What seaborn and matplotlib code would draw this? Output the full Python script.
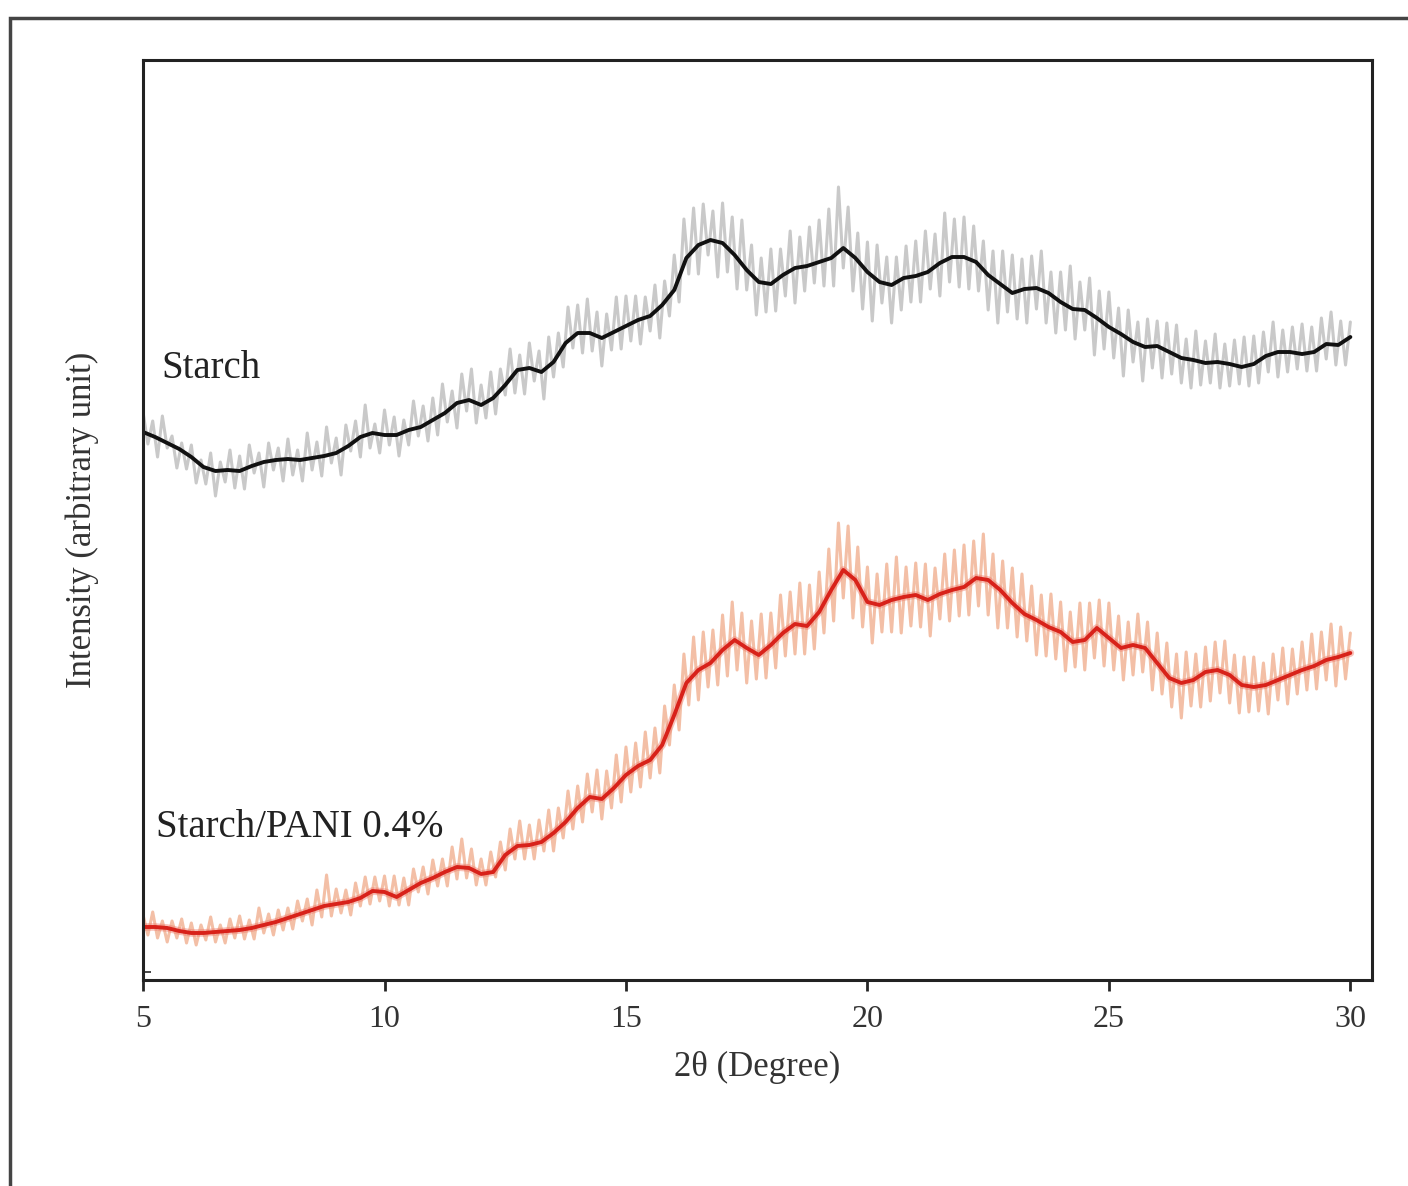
import numpy as np
import pandas as pd
import matplotlib
matplotlib.use("Agg")
import matplotlib.pyplot as plt
import seaborn as sns
from matplotlib.patches import Rectangle

# 2-theta grids (degrees)
two_theta_smooth = np.linspace(5, 30, 101)   # 0.25 deg step
two_theta_raw = np.linspace(5, 30, 251)      # 0.1 deg step

# Starch, smoothed trace (arbitrary units)
starch_smooth = [
    548, 543, 537, 531, 523, 513, 509, 510, 509, 514, 518, 520, 521, 520, 522, 524,
    527, 534, 543, 547, 545, 545, 550, 553, 560, 567, 577, 580, 575, 582, 595, 610,
    612, 608, 618, 637, 647, 647, 642, 648, 654, 660, 664, 675, 690, 722, 735, 740,
    737, 725, 710, 698, 696, 705, 712, 714, 718, 722, 732, 722, 708, 698, 695, 702,
    704, 708, 717, 723, 723, 718, 705, 696, 687, 691, 692, 687, 678, 671, 670, 662,
    653, 646, 638, 633, 634, 628, 622, 620, 617, 618, 616, 613, 616, 624, 628, 628,
    626, 628, 636, 635, 643,
]

# Starch, raw scan
starch_raw = [
    568, 536, 559, 523, 564, 532, 544, 512, 537, 511,
    535, 497, 520, 496, 527, 484, 518, 498, 530, 492,
    524, 491, 535, 507, 527, 493, 537, 510, 532, 499,
    541, 505, 530, 499, 547, 510, 538, 504, 553, 517,
    542, 505, 555, 529, 559, 523, 575, 532, 556, 527,
    570, 535, 563, 524, 560, 535, 579, 544, 574, 539,
    582, 545, 596, 558, 589, 552, 606, 569, 611, 557,
    595, 562, 608, 566, 611, 585, 631, 587, 625, 586,
    637, 599, 629, 581, 643, 603, 647, 613, 673, 632,
    675, 627, 681, 629, 668, 614, 666, 630, 683, 631,
    684, 639, 684, 636, 683, 649, 695, 642, 699, 664,
    725, 678, 761, 706, 772, 706, 776, 725, 769, 703,
    777, 708, 763, 691, 760, 690, 735, 665, 722, 668,
    731, 669, 731, 684, 749, 677, 743, 689, 753, 697,
    760, 694, 771, 694, 793, 712, 773, 689, 747, 671,
    738, 659, 735, 677, 723, 657, 723, 670, 734, 678,
    739, 678, 749, 691, 746, 684, 767, 698, 761, 693,
    763, 691, 754, 689, 739, 670, 729, 657, 729, 668,
    725, 661, 721, 657, 724, 671, 729, 657, 708, 647,
    708, 650, 714, 641, 698, 650, 702, 625, 689, 631,
    688, 622, 672, 604, 670, 618, 658, 599, 661, 612,
    659, 602, 657, 606, 655, 597, 641, 592, 649, 595,
    639, 597, 646, 592, 636, 594, 640, 596, 643, 594,
    644, 597, 648, 608, 658, 603, 650, 608, 653, 611,
    656, 609, 653, 609, 662, 621, 668, 615, 659, 615,
    658,
]

# Starch/PANI 0.4%, smoothed trace
pani_smooth = [
    53, 53, 52, 49, 47, 47, 48, 49, 50, 52, 55, 58, 62, 66, 70, 74,
    76, 78, 82, 89, 88, 83, 90, 97, 102, 108, 113, 112, 106, 108, 125, 134,
    135, 138, 147, 158, 172, 183, 181, 192, 205, 214, 220, 235, 265, 297, 310, 317,
    330, 340, 332, 325, 335, 347, 356, 354, 368, 390, 410, 400, 378, 375, 380, 383,
    385, 380, 386, 390, 393, 402, 400, 390, 377, 366, 360, 353, 348, 338, 340, 352,
    342, 332, 335, 332, 317, 302, 297, 300, 308, 310, 305, 295, 293, 295, 300, 305,
    310, 314, 320, 323, 327,
]

# Starch/PANI 0.4%, raw scan
pani_raw = [
    65, 45, 68, 42, 59, 38, 59, 42, 61, 37,
    57, 35, 55, 40, 63, 38, 55, 37, 61, 42,
    64, 41, 60, 41, 72, 47, 66, 45, 70, 50,
    72, 51, 79, 59, 81, 55, 90, 63, 105, 64,
    91, 67, 90, 65, 97, 74, 103, 76, 103, 79,
    104, 74, 104, 75, 102, 75, 111, 88, 113, 86,
    120, 94, 121, 94, 133, 101, 141, 102, 131, 95,
    121, 95, 128, 103, 138, 110, 151, 121, 159, 121,
    155, 121, 160, 129, 170, 129, 172, 142, 189, 151,
    194, 158, 206, 168, 210, 161, 209, 172, 225, 178,
    233, 188, 237, 193, 248, 202, 252, 207, 274, 235,
    295, 250, 326, 275, 343, 280, 348, 293, 350, 295,
    365, 304, 378, 310, 367, 297, 359, 301, 366, 302,
    367, 312, 385, 324, 388, 326, 397, 326, 395, 331,
    408, 347, 431, 359, 457, 382, 454, 362, 433, 353,
    413, 337, 406, 348, 416, 348, 423, 347, 413, 354,
    417, 353, 416, 344, 412, 361, 426, 359, 430, 364,
    435, 365, 439, 374, 446, 365, 426, 352, 419, 352,
    412, 343, 406, 339, 394, 325, 385, 324, 386, 321,
    378, 309, 368, 313, 377, 310, 377, 322, 380, 314,
    377, 310, 364, 300, 358, 305, 366, 308, 358, 290,
    347, 286, 337, 273, 326, 262, 328, 274, 326, 273,
    333, 279, 338, 287, 339, 277, 325, 267, 323, 268,
    323, 269, 317, 266, 326, 280, 332, 276, 331, 286,
    338, 290, 346, 291, 348, 300, 356, 294, 353, 301,
    347,
]

x_ticks = [5, 10, 15, 20, 25, 30]

sns.set_theme(style="white")
plt.rcParams['font.family'] = ['Liberation Serif', 'DejaVu Serif']

fig = plt.figure(figsize=(14.08, 11.86), dpi=100)
ax = fig.add_axes([0.1016, 0.1737, 0.8729, 0.7757])

raw_df = pd.DataFrame({"theta": two_theta_raw, "starch": starch_raw, "pani": pani_raw})
smooth_df = pd.DataFrame({"theta": two_theta_smooth, "starch": starch_smooth, "pani": pani_smooth})

# raw scans (light)
sns.lineplot(data=raw_df, x="theta", y="starch", ax=ax, color="#c9c9c9", lw=2.2, sort=False)
sns.lineplot(data=raw_df, x="theta", y="pani", ax=ax, color="#f3bfa6", lw=2.2, sort=False)

# smoothed traces
sns.lineplot(data=smooth_df, x="theta", y="starch", ax=ax, color="#111111", lw=2.8, sort=False)
sns.lineplot(data=smooth_df, x="theta", y="pani", ax=ax, color="#f07a6a", lw=5.5, alpha=0.45, sort=False)
sns.lineplot(data=smooth_df, x="theta", y="pani", ax=ax, color="#d8221a", lw=2.8, sort=False)

ax.set_xlim(5, 30.45)
ax.set_ylim(0, 920)

ax.text(5.37, 612, "Starch", fontsize=28, va="center", ha="left", color="#222222")
ax.text(5.27, 152, "Starch/PANI 0.4%", fontsize=28, va="center", ha="left", color="#222222")

ax.set_xticks(x_ticks)
ax.set_xticklabels([str(t) for t in x_ticks], fontsize=23, color="#333333")
ax.set_yticks([8])
ax.set_yticklabels([""])
ax.tick_params(axis="x", direction="out", length=8, width=2, pad=10, bottom=True)
ax.tick_params(axis="y", direction="in", length=6, width=1.2, left=True)

ax.set_xlabel("2\u03b8 (Degree)", fontsize=25, color="#333333", labelpad=12)
ax.set_ylabel("Intensity (arbitrary unit)", fontsize=25, color="#333333", labelpad=28)

for side in ["left", "right", "top", "bottom"]:
    ax.spines[side].set_visible(True)
    ax.spines[side].set_color("#222222")
    ax.spines[side].set_linewidth(2.2)

# outer picture frame (only top and left edges visible)
fig.patches.append(Rectangle((10 / 1408, -0.05), 1.2, 1 - 18 / 1186 + 0.05,
                             transform=fig.transFigure, fill=False,
                             edgecolor="#444444", lw=2.5))

fig.savefig("out.png", dpi=100)
